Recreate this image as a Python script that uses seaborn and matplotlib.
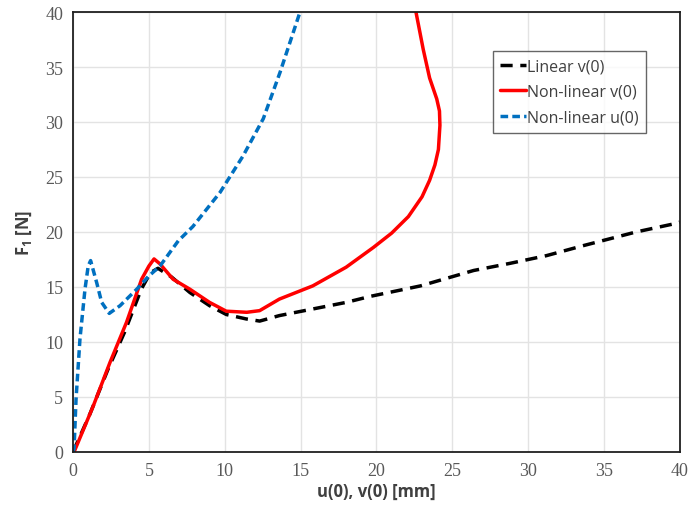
import seaborn as sns
import pandas as pd
import matplotlib.pyplot as plt

# Linear v(0)
lin_u = [0.0, 1.1, 2.3, 3.4, 4.5, 5.1, 5.6, 6.5, 7.7, 9.0, 10.1, 11.4, 12.3, 13.6, 15.8,
         18.0, 19.6, 22.9, 26.4, 28.8, 31.2, 33.6, 37.1, 39.8, 40.0]
lin_f = [0.0, 3.4, 7.5, 10.9, 14.8, 16.3, 16.7, 15.9, 14.5, 13.3, 12.5, 12.1, 11.9, 12.4, 13.0,
         13.6, 14.15, 15.1, 16.5, 17.15, 17.85, 18.75, 20.0, 20.8, 20.9]

# Non-linear v(0)
red_u = [0.0, 0.1, 1.34, 2.44, 3.53, 4.52, 5.0, 5.34, 5.73, 6.6, 7.7, 9.0, 10.1, 11.45, 12.3,
         13.6, 15.8, 18.0, 19.8, 21.0, 22.1, 23.0, 23.5, 23.85, 24.08, 24.18, 24.15, 23.97,
         23.5, 23.08, 22.6]
red_f = [0.0, 0.1, 4.2, 8.15, 11.8, 15.7, 16.9, 17.55, 17.1, 15.7, 14.8, 13.6, 12.8, 12.7, 12.85,
         13.9, 15.1, 16.8, 18.6, 19.9, 21.4, 23.2, 24.7, 26.1, 27.5, 29.7, 31.0, 32.1,
         34.0, 36.6, 40.0]

# Non-linear u(0)
blue_u = [0.0, 0.07, 0.2, 0.46, 0.79, 1.0, 1.16, 1.56, 1.89, 2.39, 3.1, 4.2, 5.0, 5.73, 6.94,
          7.9, 9.69, 11.2, 12.54, 13.64, 14.96]
blue_f = [0.0, 0.3, 4.8, 10.3, 14.8, 16.9, 17.4, 15.4, 13.6, 12.6, 13.3, 14.8, 16.0, 16.9, 19.2,
          20.5, 23.6, 26.9, 30.3, 34.5, 40.0]

df = pd.concat([
    pd.DataFrame({'u': lin_u, 'F': lin_f, 'series': 'Linear v(0)'}),
    pd.DataFrame({'u': red_u, 'F': red_f, 'series': 'Non-linear v(0)'}),
    pd.DataFrame({'u': blue_u, 'F': blue_f, 'series': 'Non-linear u(0)'}),
], ignore_index=True)

sns.set_style('white')
fig = plt.figure(figsize=(6.9, 5.1), dpi=100)
ax = fig.add_axes([0.1058, 0.1118, 0.8797, 0.8627])

styles = {
    'Linear v(0)': dict(color='black', dashes=(3.5, 2.2)),
    'Non-linear v(0)': dict(color='#FF0000', dashes=None),
    'Non-linear u(0)': dict(color='#0070C0', dashes=(2.2, 1.2)),
}
for name, st in styles.items():
    sub = df[df['series'] == name]
    sns.lineplot(data=sub, x='u', y='F', sort=False, estimator=None, ax=ax,
                 color=st['color'], linewidth=2.5, label=name)
    if st['dashes']:
        ax.lines[-1].set_dashes(st['dashes'])

ax.set_xlim(0, 40)
ax.set_ylim(0, 40)
ax.set_xticks(range(0, 41, 5))
ax.set_yticks(range(0, 41, 5))
ax.grid(True, color='#e3e3e3', linewidth=1)
for s in ax.spines.values():
    s.set_color('#202020')
    s.set_linewidth(1.3)
    s.set_visible(True)
ax.tick_params(axis='both', length=0, pad=7, labelsize=13, labelcolor='#595959')
for lab in ax.get_xticklabels() + ax.get_yticklabels():
    lab.set_family('Liberation Serif')

ax.set_xlabel('u(0), v(0) [mm]', fontsize=12, fontweight='bold', color='#404040',
              family='Open Sans', labelpad=2)
ax.set_ylabel(r'F$_\mathregular{1}$ [N]', fontsize=12, fontweight='bold', color='#404040',
              family='Open Sans', labelpad=8)

leg = ax.legend(loc='upper left', bbox_to_anchor=(0.692, 0.911), borderaxespad=0,
                frameon=True, fancybox=False, edgecolor='#404040', handlelength=1.6,
                handletextpad=0.1, borderpad=0.45, labelspacing=0.6,
                prop={'family': 'Open Sans', 'size': 11.5})
leg.get_frame().set_linewidth(1.0)
for t in leg.get_texts():
    t.set_color('#404040')

plt.savefig('out.png', dpi=100)
